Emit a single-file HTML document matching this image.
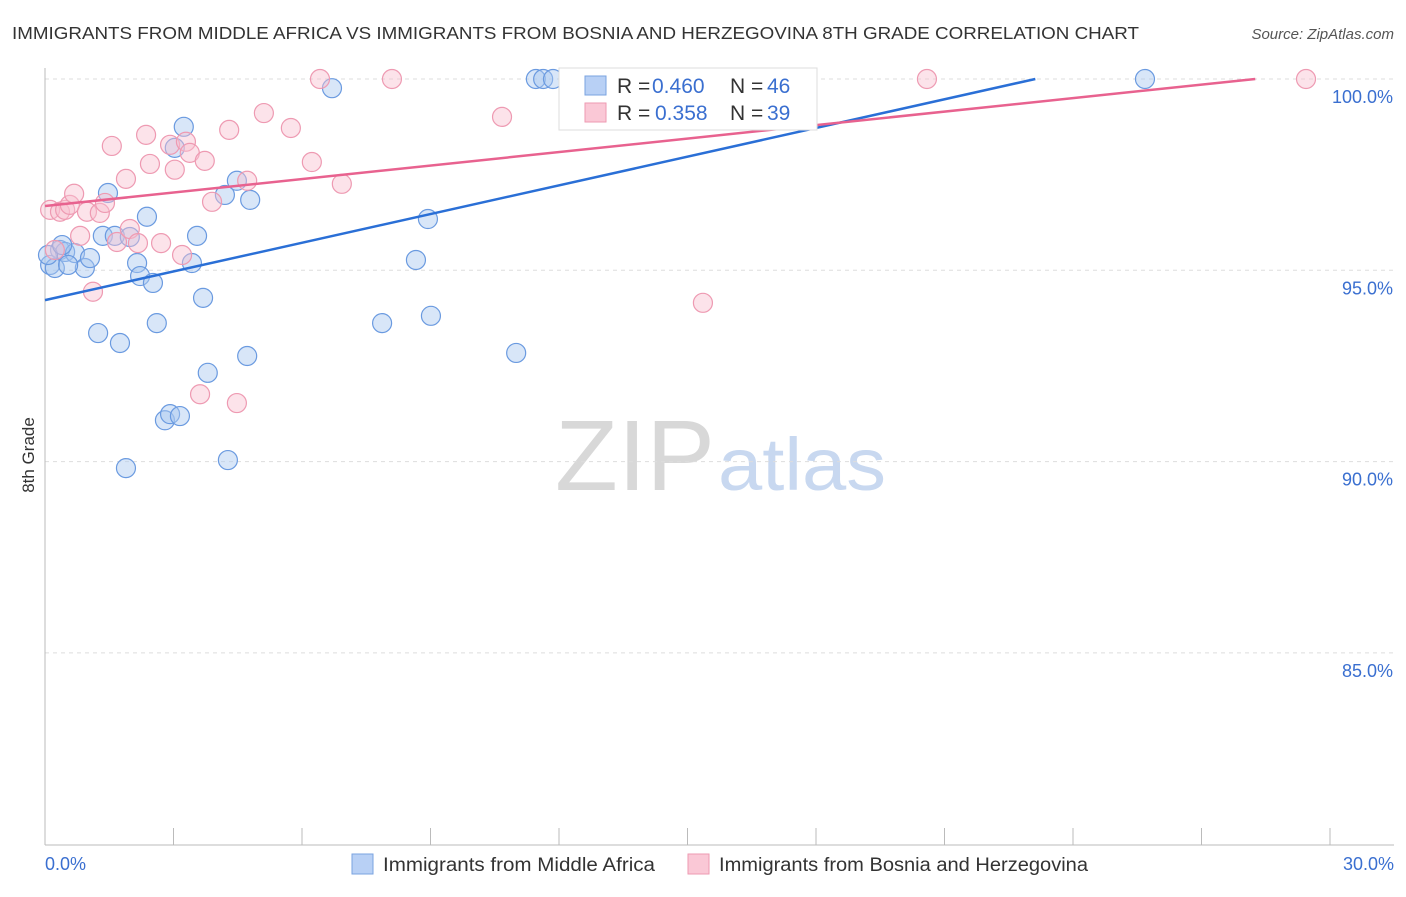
<!DOCTYPE html>
<html><head><meta charset="utf-8"><style>
body{margin:0;background:#fff;font-family:"Liberation Sans",sans-serif;}
svg text{font-family:"Liberation Sans",sans-serif;}
</style></head><body>
<svg id="chart" width="1406" height="892">
<text x="12" y="39" font-size="17.5" fill="#333" textLength="1127" lengthAdjust="spacingAndGlyphs">IMMIGRANTS FROM MIDDLE AFRICA VS IMMIGRANTS FROM BOSNIA AND HERZEGOVINA 8TH GRADE CORRELATION CHART</text>
<text x="1394" y="39" font-size="15" fill="#555" font-style="italic" text-anchor="end">Source: ZipAtlas.com</text>
<text x="555" y="490" font-size="100" fill="#d8d8d8" font-family="Liberation Serif" textLength="160" lengthAdjust="spacingAndGlyphs">ZIP</text>
<text x="718" y="490" font-size="74" fill="#c8d8f0" textLength="168" lengthAdjust="spacingAndGlyphs">atlas</text>
<text transform="translate(34,455) rotate(-90)" font-size="17" fill="#333" text-anchor="middle">8th Grade</text>
<g id="grid"></g><g id="axes"></g><g id="pts"></g><g id="lines"></g>
<g>
<rect x="559" y="68" width="258" height="62" fill="#fff" stroke="#ddd"/>
<rect x="585" y="76" width="21" height="19" fill="#b8d0f5" stroke="#7aa3e0"/>
<rect x="585" y="103" width="21" height="19" fill="#fac8d6" stroke="#ee9ab2"/>
<text x="617" y="93" font-size="21" fill="#333">R =<tspan x="652" fill="#3a6fd0">0.460</tspan><tspan x="730">N =</tspan><tspan x="767" fill="#3a6fd0">46</tspan></text>
<text x="617" y="120" font-size="21" fill="#333">R =<tspan x="655" fill="#3a6fd0">0.358</tspan><tspan x="730">N =</tspan><tspan x="767" fill="#3a6fd0">39</tspan></text>
</g>
<g>
<rect x="352" y="854" width="21" height="20" fill="#b8d0f5" stroke="#7aa3e0"/>
<text x="383" y="871" font-size="19" fill="#333" textLength="272" lengthAdjust="spacingAndGlyphs">Immigrants from Middle Africa</text>
<rect x="688" y="854" width="21" height="20" fill="#fac8d6" stroke="#ee9ab2"/>
<text x="719" y="871" font-size="19" fill="#333" textLength="369" lengthAdjust="spacingAndGlyphs">Immigrants from Bosnia and Herzegovina</text>
</g>
</svg>
<script>
const yTicks=[100,95,90,85];
const yTickLabels=["100.0%","95.0%","90.0%","85.0%"];
const xTickLabels=["0.0%","30.0%"];
const blueX=[0.12,0.23,0.35,0.47,0.7,0.93,1.05,1.24,1.35,1.47,1.63,1.75,1.89,1.98,2.15,2.22,2.38,2.52,2.61,2.8,2.92,3.03,3.15,3.24,3.43,3.55,3.69,3.8,4.2,4.27,4.48,4.72,4.79,6.7,7.87,8.66,8.94,9.01,11.0,11.46,11.63,11.86,25.68,0.07,0.54,0.4];
const blueY=[95.14,95.06,95.53,95.48,95.45,95.06,95.32,93.36,95.9,97.02,95.9,93.1,89.83,95.87,95.19,94.85,96.4,94.67,93.62,91.08,91.24,98.2,91.19,98.75,95.19,95.9,94.28,92.32,96.97,90.04,97.34,92.76,96.84,99.76,93.62,95.27,96.34,93.81,92.84,100,100,100,100,95.4,95.14,95.66];
const pinkX=[0.12,0.23,0.35,0.47,0.58,0.68,0.82,0.98,1.12,1.28,1.4,1.56,1.68,1.89,1.98,2.17,2.36,2.45,2.71,2.92,3.03,3.2,3.29,3.38,3.62,3.73,3.9,4.3,4.48,4.72,5.11,5.74,6.23,6.42,6.93,8.1,10.67,15.36,20.59,29.44];
const pinkY=[96.58,95.53,96.53,96.58,96.71,97.0,95.9,96.53,94.44,96.5,96.76,98.25,95.74,97.39,96.08,95.71,98.54,97.78,95.71,98.28,97.63,95.4,98.36,98.07,91.76,97.86,96.79,98.67,91.53,97.34,99.11,98.72,97.83,100,97.26,100,99.01,94.15,100,100];
const X0=45,X1=1330,Y100=79,PX5=191.3;
const xs=v=>X0+(v/30)*(X1-X0);
const ys=v=>Y100+(100-v)/5*PX5;
const NS="http://www.w3.org/2000/svg";
function mk(p,t,a){const e=document.createElementNS(NS,t);for(const k in a)e.setAttribute(k,a[k]);p.appendChild(e);return e;}
const grid=document.getElementById('grid'),axes=document.getElementById('axes'),pts=document.getElementById('pts'),lines=document.getElementById('lines');
yTicks.forEach((t,i)=>{
 const g=mk(grid,'line',{x1:X0,x2:1394,y1:ys(t),y2:ys(t),stroke:'#ddd','stroke-dasharray':'4,4'});
 
 
 const tx=mk(axes,'text',{x:1393,y:ys(t)+24,'font-size':18,fill:'#3a6fd0','text-anchor':'end'});
 tx.textContent=yTickLabels[i];
 
 
});
const ya=mk(axes,'line',{x1:X0,x2:X0,y1:68,y2:845,stroke:'#bbb'});


const xa=mk(axes,'line',{x1:X0,x2:1394,y1:845,y2:845,stroke:'#bbb'});


for(let i=1;i<=10;i++){const t=mk(axes,'line',{x1:xs(i*3),x2:xs(i*3),y1:828,y2:845,stroke:'#bbb'});
 
 }
[[0,'start',45],[30,'end',1394]].forEach((d,i)=>{const t=mk(axes,'text',{x:d[2],y:870,'font-size':18,fill:'#3a6fd0','text-anchor':d[1]});t.textContent=xTickLabels[i];
 
 });
function dots(X,Y,fill,stroke,name){X.forEach((x,i)=>{const c=mk(pts,'circle',{cx:xs(x),cy:ys(Y[i]),r:9.5,fill:fill,'fill-opacity':0.45,stroke:stroke,'stroke-width':1.2});
 
 });}
dots(blueX,blueY,'#a8c8f0','#6a9ae0','point-middle-africa');
dots(pinkX,pinkY,'#f8c0d0','#ee9ab2','point-bosnia');
function trend(a,b,color,name){const xe=Math.min(30,(100-a)/b);const l=mk(lines,'line',{x1:xs(0),y1:ys(a),x2:xs(xe),y2:ys(a+b*xe),stroke:color,'stroke-width':2.5});
 
 }
trend(94.22,0.25,'#2a6fd6','trend-middle-africa');
trend(96.68,0.1175,'#e8628f','trend-bosnia');
</script>
</body></html>
